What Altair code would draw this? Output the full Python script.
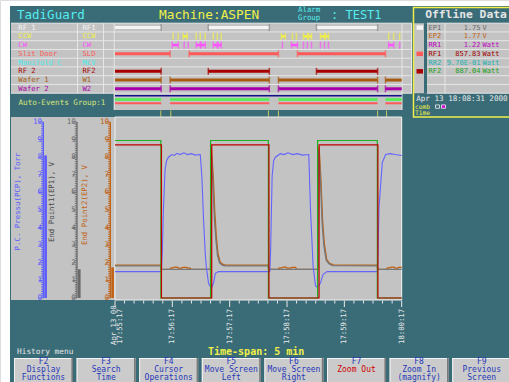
import altair as alt
import pandas as pd

FONT = "DejaVu Sans Mono"
TEAL = "#3a6c78"
PANEL = "#c3c3c3"
RULE = "#e6e6e6"
YELLOW = "#f0f048"
CYAN = "#55eeee"

# ---------------- event rows (seconds after 17:55:17) ----------------
ROW_NAMES = ["RF 1", "CCW", "CW", "Slit Door", "Manifold C", "RF 2", "Wafer 1", "Wafer 2"]
ROW_TAGS = ["RF1", "CCW", "CW", "SLD", "MCV", "RF2", "W1", "W2"]
ROW_COLORS = ["#f4f4f4", "#f0f048", "#ff50ff", "#ff5a5a", "#48eeee", "#a80000", "#a85a10", "#a800a8"]

RF1_ON = [(0, 48.3), (97.6, 161.5), (210.8, 274.8)]
CCW_ON = [(60.8, 60.8), (66.1, 66.1), (71.3, 75.5), (85.0, 85.0), (89.2, 89.2), (94.4, 94.4),
          (102.8, 102.8), (107.0, 107.0), (111.2, 111.2), (174.1, 178.3), (185.7, 185.7),
          (189.9, 189.9), (197.2, 201.4), (202.4, 205.6), (215.0, 219.2), (220.2, 223.4),
          (286.4, 286.4), (291.6, 291.6), (297.9, 297.9)]
CW_ON = [(59.8, 66.1), (72.4, 72.4), (76.6, 76.6), (85.0, 89.2), (90.2, 94.4), (102.8, 107.0),
         (108.0, 111.2), (175.2, 175.2), (184.6, 190.9), (197.2, 197.2), (201.4, 201.4),
         (205.6, 205.6), (215.0, 215.0), (219.2, 219.2), (223.4, 223.4), (286.4, 291.6),
         (297.9, 297.9)]
SLD_ON = [(0, 57.7), (77.6, 171.0), (190.9, 283.0)]
MCV_ON = []
RF2_ON = [(0, 48.3), (97.6, 161.5), (210.8, 274.8)]
W1_ON = [(0, 48.3), (57.7, 161.5), (171.0, 274.8), (283.0, 300)]
W2_ON = [(0, 48.3), (57.7, 161.5), (171.0, 274.8), (283.0, 300)]
ROW_EVENTS = [RF1_ON, CCW_ON, CW_ON, SLD_ON, MCV_ON, RF2_ON, W1_ON, W2_ON]

# auto-events group 1
AUTO_COLORS = ["#10108a", "#50f050", "#ff5a5a"]
AUTO_ON = [[(0, 300)],
           [(0, 48.3), (57.7, 161.5), (171.0, 274.8), (283.0, 300)],
           [(0, 48.3), (57.7, 161.5), (171.0, 274.8), (283.0, 300)]]
AUTO_MARKS = [47.9, 58.4, 160.5, 171.0, 274.8, 284.2]

# ---------------- trends (axis units 0-10) ----------------
PCP = [(0, 1.5), (48.5, 1.5), (49.5, 2.6), (50.7, 5.1), (52.4, 7.3), (54, 7.8), (55.9, 8.0),
       (59.5, 8.15), (62, 8.1), (64.7, 8.22), (68, 8.15), (72, 8.25), (76, 8.15), (80, 8.2),
       (84, 8.12), (89.2, 8.15), (90.9, 6.9), (92.7, 4.4), (94.4, 2.55), (95.5, 1.78),
       (97.9, 0.84), (100.7, 0.55), (103.1, 0.84), (104.9, 1.4), (108.4, 1.5), (162, 1.5),
       (162.8, 2.6), (164.4, 6.9), (166, 7.8), (167.8, 8.0), (173, 8.2), (177, 8.15),
       (181, 8.25), (186, 8.15), (191, 8.2), (196, 8.12), (202.8, 8.15), (204.5, 5.1),
       (207.3, 1.8), (209.8, 0.7), (211.6, 0.6), (215, 0.85), (217.8, 1.35), (222, 1.5),
       (274.6, 1.5), (275.3, 2.6), (276.2, 5.1), (279.7, 7.7), (283.2, 8.15), (288, 8.2),
       (293, 8.15), (300, 8.1)]
EP1 = [(0, 1.82), (47.9, 1.82), (48.4, 1.63), (99.9, 1.63), (100.3, 4.8), (100.7, 8.3),
       (102.5, 6.6), (103.9, 4.6), (105.6, 3.3), (107.3, 2.4), (109.4, 2.0), (111.9, 1.88),
       (114.3, 1.83), (160.4, 1.82), (160.9, 1.63), (212.5, 1.63), (212.9, 5.0), (213.3, 8.4),
       (215.0, 6.7), (216.8, 4.2), (218.5, 3.0), (221.0, 2.15), (223.8, 1.95), (227.3, 1.84),
       (274.4, 1.82), (274.9, 1.63), (300, 1.63)]
EP2 = [(0, 1.87), (47.9, 1.87), (48.4, 1.63), (57.7, 1.63), (58.5, 1.71), (61, 1.71),
       (62, 1.75), (65, 1.75), (66, 1.70), (70, 1.70), (71, 1.74), (75, 1.74), (76, 1.70),
       (78.7, 1.70), (79.5, 1.63), (99.9, 1.63), (100.4, 4.5), (100.9, 8.5), (102.8, 6.9),
       (104.3, 5.0), (106.0, 3.5), (107.8, 2.5), (110.0, 2.05), (112.5, 1.92), (115.5, 1.87),
       (160.4, 1.87), (160.9, 1.63), (171.0, 1.63), (171.8, 1.71), (175, 1.71), (176, 1.75),
       (179, 1.75), (180, 1.70), (184, 1.70), (185, 1.74), (189, 1.74), (190, 1.63),
       (212.5, 1.63), (213.0, 4.6), (213.5, 8.6), (215.3, 6.9), (217.2, 4.4), (219.0, 3.1),
       (221.5, 2.2), (224.5, 1.97), (228.5, 1.88), (274.4, 1.87), (274.9, 1.63), (284.0, 1.63),
       (285, 1.71), (288, 1.71), (289, 1.75), (292, 1.75), (293, 1.70), (296, 1.70),
       (297, 1.74), (300, 1.74)]
RF2_TREND = [(0, 8.95), (48, 8.95), (48, 0), (100, 0), (100, 8.95), (160.5, 8.95), (160.5, 0),
             (212, 0), (212, 8.95), (274.5, 8.95), (274.5, 0), (300, 0)]
RF1_TREND = [(0, 8.7), (48.6, 8.7), (48.6, 0), (101.2, 0), (101.2, 8.7), (161.1, 8.7),
             (161.1, 0), (213.5, 0), (213.5, 8.7), (275.1, 8.7), (275.1, 0), (300, 0)]

AXIS_TITLES = ["P.C. Pressu(PCP), Torr", "End Point1(EP1), V", "End Point2(EP2), V"]
AXIS_COLORS = ["#5a5aff", "#6a6a6a", "#c06010"]
AXIS_TITLE_COLORS = ["#5a5aff", "#484848", "#c06010"]
AXIS_LABELS = list(range(0, 11))

TIME_LABELS = ["17:55:17", "17:56:17", "17:57:17", "17:58:17", "17:59:17", "18:00:17"]
TIME_LABEL_T = [0, 60, 120, 180, 240, 300]
DATE_LABEL = "Apr 13 00"

# ---------------- offline data panel ----------------
OFF_TAGS = ["EP1", "EP2", "RR1", "RF1", "RR2", "RF2"]
OFF_VALUES = ["1.75", "1.77", "1.22", "857.83", "9.78E-01", "887.04"]
OFF_UNITS = ["V", "V", "Watt", "Watt", "Watt", "Watt"]
OFF_COLORS = ["#6a6a6a", "#c06010", "#c000c0", "#a00000", "#20b0b0", "#20a020"]
OFF_SWATCH_ROWS = [0, 3, 5]
OFF_SWATCH_COLORS = ["#f4f4f4", "#ff5a5a", "#a80000"]

# ---------------- function keys ----------------
BTN_KEYS = ["F2", "F3", "F4", "F5", "F6", "F7", "F8", "F9"]
BTN_LINE1 = ["Display", "Search", "Cursor", "Move Screen", "Move Screen", "Zoom Out", "Zoom In", "Previous"]
BTN_LINE2 = ["Functions", "Time", "Operations", "Left", "Right", "", "(magnify)", "Screen"]

# ---------------- scales ----------------
T_SCALE = alt.Scale(domain=[0, 300], range=[115, 401.7])
V_SCALE = alt.Scale(domain=[0, 10], range=[298, 122])
ROW_SCALE = alt.Scale(domain=[0, 7], range=[27.6, 88.8])
AUTO_SCALE = alt.Scale(domain=[0, 2], range=[95.8, 103.3])


def px(field):
    return alt.X(field, type="quantitative", scale=None, axis=None)


def py(field):
    return alt.Y(field, type="quantitative", scale=None, axis=None)


def fill_rects(rows):
    df = pd.DataFrame(rows, columns=["x0", "x1", "y0", "y1", "fill"])
    return alt.Chart(df).mark_rect().encode(
        x=px("x0"), x2="x1", y=py("y0"), y2="y1", fill=alt.Fill("fill:N", scale=None))


def pix_rules(rows):
    df = pd.DataFrame(rows, columns=["x0", "x1", "y0", "y1", "color", "w"])
    return alt.Chart(df).mark_rule().encode(
        x=px("x0"), x2="x1", y=py("y0"), y2="y1",
        color=alt.Color("color:N", scale=None),
        strokeWidth=alt.StrokeWidth("w:Q", scale=None))


def pix_text(rows, align="left", weight="normal"):
    df = pd.DataFrame(rows, columns=["x", "y", "text", "color", "size", "angle"])
    return alt.Chart(df).mark_text(align=align, baseline="middle", font=FONT, fontWeight=weight).encode(
        x=px("x"), y=py("y"), text="text:N",
        color=alt.Color("color:N", scale=None),
        size=alt.Size("size:Q", scale=None),
        angle=alt.Angle("angle:Q", scale=None))


layers = []

# ---- panels ----
ROW_TOP, ROW_H = 23.2, 8.75
ROW_BOTTOM = ROW_TOP + 8 * ROW_H
layers.append(fill_rects([
    (10, 509, 6, 382, TEAL),
    (11, 412, ROW_TOP, ROW_BOTTOM, PANEL),
    (114, 402, ROW_BOTTOM, 110, PANEL),
    (11, 402, 117, 300, PANEL),
    (414, 509, ROW_TOP, ROW_BOTTOM, PANEL),
    (424, 427, ROW_TOP, ROW_BOTTOM, TEAL),
]))

# ---- table grid lines ----
grid = []
for k in range(9):
    y = ROW_TOP + k * ROW_H
    grid.append((11, 412, y, y, RULE, 1))
    grid.append((427, 509, y, y, RULE, 1))
for x, y1 in [(77.5, ROW_BOTTOM), (103.5, ROW_BOTTOM), (114.2, 110), (402, 110), (411.5, ROW_BOTTOM), (445, ROW_BOTTOM)]:
    grid.append((x, x, ROW_TOP, y1, RULE, 1))
layers.append(pix_rules(grid))

# ---- event bars with end caps ----
bars, caps = [], []
for r, (events, color) in enumerate(zip(ROW_EVENTS, ROW_COLORS)):
    width = 2.5 if r in (1, 2) else 3
    cap_color = "#8a8a8a" if r == 0 else color
    for a, b in events:
        if b > a:
            bars.append({"t0": a, "t1": b, "row": r, "color": color, "w": width})
        for t in sorted({a, b}):
            if 0 < t < 300:
                caps.append({"t": t, "row": r, "color": cap_color})
layers.append(alt.Chart(pd.DataFrame(bars)).mark_rule().encode(
    x=alt.X("t0:Q", scale=T_SCALE, axis=None), x2="t1:Q",
    y=alt.Y("row:Q", scale=ROW_SCALE, axis=None),
    color=alt.Color("color:N", scale=None),
    strokeWidth=alt.StrokeWidth("w:Q", scale=None)))
layers.append(alt.Chart(pd.DataFrame(caps)).mark_tick(orient="vertical", size=7, thickness=1.5).encode(
    x=alt.X("t:Q", scale=T_SCALE, axis=None),
    y=alt.Y("row:Q", scale=ROW_SCALE, axis=None),
    color=alt.Color("color:N", scale=None)))

# ---- auto-events ----
auto = []
for i, (events, color) in enumerate(zip(AUTO_ON, AUTO_COLORS)):
    for a, b in events:
        auto.append({"t0": a, "t1": b, "lane": i, "color": color, "w": [1.6, 2.6, 2.0][i]})
layers.append(alt.Chart(pd.DataFrame(auto)).mark_rule().encode(
    x=alt.X("t0:Q", scale=T_SCALE, axis=None), x2="t1:Q",
    y=alt.Y("lane:Q", scale=AUTO_SCALE, axis=None),
    color=alt.Color("color:N", scale=None),
    strokeWidth=alt.StrokeWidth("w:Q", scale=None)))
layers.append(alt.Chart(pd.DataFrame({"t": AUTO_MARKS})).mark_rule(color="#c8c860", strokeWidth=1).encode(
    x=alt.X("t:Q", scale=T_SCALE, axis=None), y=alt.value(110.5), y2=alt.value(116.8)))

# ---- value axes (ruler style, labels left of the line) ----
AXIS_X = [43.3, 77.0, 110.3]
TITLE_X = [18.3, 52.0, 85.3]
TITLE_Y = [201.5, 202.0, 205.0]
last_values = [PCP[-1][1], EP1[-1][1], EP2[-1][1]]
minor = [i / 8 for i in range(81)]
for ax, color, title, tcol, tx_, ty_, cur in zip(AXIS_X, AXIS_COLORS, AXIS_TITLES,
                                                 AXIS_TITLE_COLORS, TITLE_X, TITLE_Y, last_values):
    tick_df = pd.DataFrame({"v": minor,
                            "x0": [ax - (4.5 if abs(v - round(v)) < 1e-9 else 2.2) for v in minor],
                            "x1": [ax] * len(minor)})
    layers.append(alt.Chart(tick_df).mark_rule(color=color, strokeWidth=0.9).encode(
        x=px("x0"), x2="x1", y=alt.Y("v:Q", scale=V_SCALE, axis=None)))
    layers.append(alt.Chart(pd.DataFrame({"a": [0], "b": [10]})).mark_rule(color=color, strokeWidth=1.3).encode(
        x=alt.value(ax), y=alt.Y("a:Q", scale=V_SCALE, axis=None), y2="b:Q"))
    layers.append(alt.Chart(pd.DataFrame({"a": [0], "b": [cur]})).mark_rule(color=color, strokeWidth=2.6).encode(
        x=alt.value(ax + 2.3), y=alt.Y("a:Q", scale=V_SCALE, axis=None), y2="b:Q"))
    layers.append(alt.Chart(pd.DataFrame({"v": AXIS_LABELS, "lab": [str(v) for v in AXIS_LABELS]}))
                  .mark_text(font=FONT, fontSize=7.6, color=color, align="right", baseline="middle")
                  .encode(x=alt.value(ax - 1.2), y=alt.Y("v:Q", scale=V_SCALE, axis=None), text="lab:N"))
    layers.append(alt.Chart(pd.DataFrame({"t": [title]})).mark_text(
        font=FONT, fontSize=7.4, color=tcol, angle=270, align="center", baseline="middle").encode(
        x=alt.value(tx_), y=alt.value(ty_), text="t:N"))

# ---- plot frame ----
layers.append(alt.Chart(pd.DataFrame({"x0": [115], "x1": [401.7], "y0": [117], "y1": [300]}))
              .mark_rect(fillOpacity=0, stroke="#eeeeee", strokeWidth=1)
              .encode(x=px("x0"), x2="x1", y=py("y0"), y2="y1"))

# ---- trend lines ----
for series, color, width in [(EP2, "#c06010", 1.3), (EP1, "#787878", 1.3), (PCP, "#6464ff", 1.1),
                             (RF2_TREND, "#20b020", 1.2), (RF1_TREND, "#c00000", 1.2)]:
    df = pd.DataFrame({"t": [p[0] for p in series], "v": [p[1] for p in series],
                       "i": list(range(len(series)))})
    layers.append(alt.Chart(df).mark_line(color=color, strokeWidth=width).encode(
        x=alt.X("t:Q", scale=T_SCALE, axis=None),
        y=alt.Y("v:Q", scale=V_SCALE, axis=None),
        order="i:Q"))

# ---- time axis ----
tick_t = list(range(0, 301, 10))
tdf = pd.DataFrame({"t": tick_t, "y0": [300.5] * len(tick_t),
                    "y1": [307 if t % 60 == 0 else 303.5 for t in tick_t]})
layers.append(alt.Chart(tdf).mark_rule(color="#e8e8e8", strokeWidth=1).encode(
    x=alt.X("t:Q", scale=T_SCALE, axis=None), y=py("y0"), y2="y1"))
layers.append(alt.Chart(pd.DataFrame({"t": TIME_LABEL_T[1:], "lab": TIME_LABELS[1:]}))
              .mark_text(font=FONT, fontSize=7.3, color="#e8e8e8", angle=270, align="left", baseline="middle")
              .encode(x=alt.X("t:Q", scale=T_SCALE, axis=None), y=alt.value(344), text="lab:N"))
layers.append(alt.Chart(pd.DataFrame({"t": [TIME_LABEL_T[0]], "lab": [TIME_LABELS[0]]}))
              .mark_text(font=FONT, fontSize=7.3, color="#e8e8e8", angle=270, align="left", baseline="middle", dy=5)
              .encode(x=alt.X("t:Q", scale=T_SCALE, axis=None), y=alt.value(344), text="lab:N"))
layers.append(alt.Chart(pd.DataFrame({"t": [TIME_LABEL_T[0]], "lab": [DATE_LABEL]}))
              .mark_text(font=FONT, fontSize=7.3, color="#e8e8e8", angle=270, align="left", baseline="middle", dy=-1.5)
              .encode(x=alt.X("t:Q", scale=T_SCALE, axis=None), y=alt.value(345), text="lab:N"))

# ---- row labels ----
row_df = pd.DataFrame({"row": list(range(8)), "name": ROW_NAMES, "tag": ROW_TAGS, "color": ROW_COLORS})
for field, x in [("name", 18.3), ("tag", 82.5)]:
    layers.append(alt.Chart(row_df).mark_text(font=FONT, fontSize=7.2, align="left", baseline="middle").encode(
        x=alt.value(x), y=alt.Y("row:Q", scale=ROW_SCALE, axis=None), text=f"{field}:N",
        color=alt.Color("color:N", scale=None)))

# ---- offline data rows ----
off_df = pd.DataFrame({"row": list(range(6)), "tag": OFF_TAGS, "val": OFF_VALUES,
                       "unit": OFF_UNITS, "color": OFF_COLORS})
for field, x, align in [("tag", 428.5, "left"), ("val", 480.5, "right"), ("unit", 482.5, "left")]:
    layers.append(alt.Chart(off_df).mark_text(font=FONT, fontSize=7.0, align=align, baseline="middle").encode(
        x=alt.value(x), y=alt.Y("row:Q", scale=ROW_SCALE, axis=None), text=f"{field}:N",
        color=alt.Color("color:N", scale=None)))
sw_df = pd.DataFrame({"row": OFF_SWATCH_ROWS, "color": OFF_SWATCH_COLORS})
layers.append(alt.Chart(sw_df).mark_rule(strokeWidth=4.5).encode(
    x=alt.value(416.5), x2=alt.value(423), y=alt.Y("row:Q", scale=ROW_SCALE, axis=None),
    color=alt.Color("color:N", scale=None)))

# ---- yellow frame of the offline panel ----
layers.append(alt.Chart(pd.DataFrame({"x0": [413.5], "x1": [530], "y0": [7.5], "y1": [117]}))
              .mark_rect(fillOpacity=0, stroke=YELLOW, strokeWidth=1.5)
              .encode(x=px("x0"), x2="x1", y=py("y0"), y2="y1"))
layers.append(alt.Chart(pd.DataFrame({"x0": [435.5, 441.5], "x1": [439.5, 445.5], "y0": [104.9, 104.9],
                                      "y1": [108.3, 108.3], "fill": [TEAL, "#d000d0"]}))
              .mark_rect(stroke="#f0f0f0", strokeWidth=0.8)
              .encode(x=px("x0"), x2="x1", y=py("y0"), y2="y1", fill=alt.Fill("fill:N", scale=None)))

# ---- header and status texts ----
layers.append(pix_text([
    (17, 14.8, "TadiGuard", CYAN, 12.5, 0),
    (159, 14.8, "Machine:ASPEN", YELLOW, 12.8, 0),
    (298, 10.2, "Alarm", CYAN, 7.4, 0),
    (298, 18.0, "Group", CYAN, 7.4, 0),
    (331, 14.8, ": TEST1", CYAN, 12.0, 0),
    (18.5, 102.5, "Auto-Events Group:1", "#d6e67a", 7.6, 0),
    (416.2, 99.0, "Apr 13 18:08:31 2000", "#e8e8e8", 7.6, 0),
    (415, 106.6, "comb", YELLOW, 6.3, 0),
    (415, 113.4, "Time", YELLOW, 6.3, 0),
    (17, 351.5, "History menu", "#e6e6e6", 7.8, 0),
]))
layers.append(pix_text([(208, 351.5, "Time-span: 5 min", YELLOW, 10, 0)], weight="bold"))
layers.append(pix_text([(466, 14.8, "Offline Data", "#e4e4e4", 11.3, 0)], align="center", weight="bold"))

# ---- function-key buttons ----
btn_rects, btn_edges, btn_text = [], [], []
for i, (key, l1, l2) in enumerate(zip(BTN_KEYS, BTN_LINE1, BTN_LINE2)):
    x0 = 14 + 62.6 * i
    x1 = x0 + 59
    btn_rects.append((x0, x1, 358, 390, "#cbcbcb"))
    btn_edges += [(x0, x1, 358.5, 358.5, "#f4f4f4", 1), (x0 + 0.5, x0 + 0.5, 358, 390, "#f4f4f4", 1),
                  (x1 - 0.8, x1 - 0.8, 358, 390, "#7a7a7a", 1.6)]
    cx = (x0 + x1) / 2
    btn_text.append((cx, 362, key, "#2838b8", 8, 0))
    btn_text.append((cx, 370, l1, "#d00000" if key == "F7" else "#2838b8", 8, 0))
    btn_text.append((cx, 377.5, l2, "#2838b8", 8, 0))
layers.append(fill_rects(btn_rects))
layers.append(pix_rules(btn_edges))
layers.append(pix_text(btn_text, align="center"))

chart = (
    alt.layer(*layers)
    .resolve_scale(x="independent", y="independent")
    .properties(width=509, height=382, autosize=alt.AutoSizeParams(type="none"), padding=0)
    .configure_view(stroke=None)
    .configure(background="white")
)
chart.save("out.html", embed_options={"renderer": "svg", "actions": False})
